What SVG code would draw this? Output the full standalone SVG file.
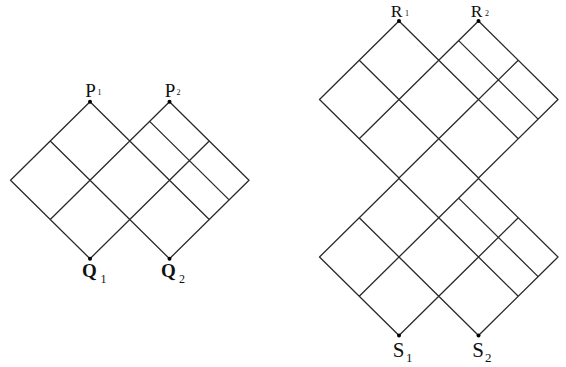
<svg xmlns="http://www.w3.org/2000/svg" xmlns:xlink="http://www.w3.org/1999/xlink" width="566" height="367" viewBox="0 0 566 367">
<style>
.ln{fill:none;stroke:#2a2a2a;stroke-width:1.3;stroke-linejoin:round;stroke-linecap:round}
.dot{fill:#000}
.lb{font-family:"Liberation Serif","DejaVu Serif",serif;fill:#111}
.pr{font-size:19px}
.r{font-size:17.5px}
.q{font-size:19px;font-weight:bold}
.s{font-size:21px}
.sub{font-size:8px}
.subq{font-size:12px}
.subs{font-size:13px}
</style>
<defs>
<path id="lattice" class="ln" d="M0,-78.5 L79.5,0 L0,78.5 L-79.5,0 Z M79.5,-78.5 L159,0 L79.5,78.5 L0,0 Z M-39.75,-39.25 L39.75,39.25 M-39.75,39.25 L39.75,-39.25 M39.75,-39.25 L119.25,39.25 M39.75,39.25 L119.25,-39.25 M59.625,-58.875 L139.125,19.625"/>
</defs>
<rect width="566" height="367" fill="#fff"/>
<g id="connectors">
<use xlink:href="#lattice" href="#lattice" transform="translate(90,180.25)"/>
<use xlink:href="#lattice" href="#lattice" transform="translate(399,99.5)"/>
<use xlink:href="#lattice" href="#lattice" transform="translate(399,257)"/>
</g>
<g id="P1"><circle class="dot" cx="90" cy="101.75" r="2"/><text class="lb pr" x="90.5" y="96.5" text-anchor="middle">P</text><text class="lb sub" x="97.5" y="95">1</text></g>
<g id="P2"><circle class="dot" cx="169.5" cy="101.75" r="2"/><text class="lb pr" x="170" y="96.5" text-anchor="middle">P</text><text class="lb sub" x="176.5" y="95">2</text></g>
<g id="Q1"><circle class="dot" cx="90" cy="258.75" r="2"/><text class="lb q" x="89.5" y="277" text-anchor="middle">Q</text><text class="lb subq" x="100.5" y="283">1</text></g>
<g id="Q2"><circle class="dot" cx="169.5" cy="258.75" r="2"/><text class="lb q" x="168.5" y="277" text-anchor="middle">Q</text><text class="lb subq" x="179" y="283">2</text></g>
<g id="R1"><circle class="dot" cx="399" cy="21" r="2"/><text class="lb r" x="396.5" y="16.5" text-anchor="middle">R</text><text class="lb sub" x="405" y="15.5">1</text></g>
<g id="R2"><circle class="dot" cx="478.5" cy="21" r="2"/><text class="lb r" x="476.5" y="16.5" text-anchor="middle">R</text><text class="lb sub" x="485" y="15.5">2</text></g>
<g id="S1"><circle class="dot" cx="399" cy="335.5" r="2"/><text class="lb s" x="398.5" y="357" text-anchor="middle">S</text><text class="lb subs" x="406" y="361.5">1</text></g>
<g id="S2"><circle class="dot" cx="478.5" cy="335.5" r="2"/><text class="lb s" x="478" y="357" text-anchor="middle">S</text><text class="lb subs" x="485" y="361.5">2</text></g>
</svg>
